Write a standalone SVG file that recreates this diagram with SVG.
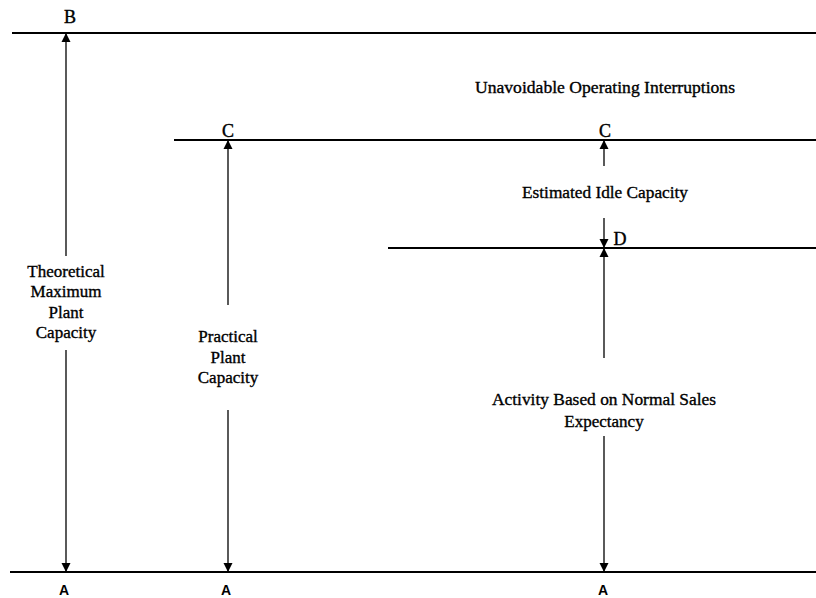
<svg xmlns="http://www.w3.org/2000/svg" width="816" height="598" viewBox="0 0 816 598">
  <defs>
    <marker id="arrow" viewBox="0 0 9 10" refX="9" refY="5" markerWidth="9" markerHeight="10" markerUnits="userSpaceOnUse" orient="auto">
      <path d="M0,0.5 L9,5 L0,9.5 Z" fill="#000"/>
    </marker>
    <style>
      .level { stroke: #000; stroke-width: 2; fill: none; }
      .dim { stroke: #000; stroke-width: 1.3; fill: none; marker-end: url(#arrow); }
      .lbl { font-family: "Liberation Serif", "DejaVu Serif", serif; font-size: 17px; fill: #000; stroke: #000; stroke-width: 0.35; text-anchor: middle; }
      .pt { font-family: "Liberation Serif", "DejaVu Serif", serif; font-size: 18px; fill: #000; stroke: #000; stroke-width: 0.4; text-anchor: middle; }
      .pa { font-family: "Liberation Sans", "DejaVu Sans", sans-serif; font-weight: bold; font-size: 14px; fill: #000; text-anchor: middle; }
    </style>
  </defs>
  <rect width="816" height="598" fill="#fff"/>

  <!-- capacity levels -->
  <g id="levels">
    <line id="level-B" class="level" x1="12" y1="33" x2="816" y2="33"/>
    <line id="level-C" class="level" x1="174" y1="140" x2="816" y2="140"/>
    <line id="level-D" class="level" x1="388" y1="248" x2="816" y2="248"/>
    <line id="level-A" class="level" x1="10" y1="572" x2="816" y2="572"/>
  </g>

  <!-- dimension arrows -->
  <g id="connectors">
    <line class="dim" x1="66" y1="256" x2="66" y2="33"/>
    <line class="dim" x1="66" y1="350" x2="66" y2="572"/>
    <line class="dim" x1="228" y1="305" x2="228" y2="140"/>
    <line class="dim" x1="228" y1="410" x2="228" y2="572"/>
    <line class="dim" x1="604" y1="166" x2="604" y2="140"/>
    <line class="dim" x1="604" y1="218" x2="604" y2="248"/>
    <line class="dim" x1="604" y1="358" x2="604" y2="248"/>
    <line class="dim" x1="604" y1="436" x2="604" y2="572"/>
  </g>

  <!-- point labels -->
  <g id="points">
    <text class="pt" x="70" y="23">B</text>
    <text class="pt" x="228" y="137">C</text>
    <text class="pt" x="605" y="137">C</text>
    <text class="pt" x="620" y="245">D</text>
    <text class="pa" x="64" y="595">A</text>
    <text class="pa" x="226" y="595">A</text>
    <text class="pa" x="603" y="595">A</text>
  </g>

  <g id="theoretical">
    <text class="lbl" x="66" y="277">Theoretical</text>
    <text class="lbl" x="66" y="297">Maximum</text>
    <text class="lbl" x="66" y="318">Plant</text>
    <text class="lbl" x="66" y="338">Capacity</text>
  </g>

  <g id="practical">
    <text class="lbl" x="228" y="342">Practical</text>
    <text class="lbl" x="228" y="363">Plant</text>
    <text class="lbl" x="228" y="383">Capacity</text>
  </g>

  <g id="unavoidable">
    <text class="lbl" x="605" y="93" textLength="260" lengthAdjust="spacingAndGlyphs">Unavoidable Operating Interruptions</text>
  </g>

  <g id="idle">
    <text class="lbl" x="605" y="198" textLength="166" lengthAdjust="spacingAndGlyphs">Estimated Idle Capacity</text>
  </g>

  <g id="normal">
    <text class="lbl" x="604" y="405" textLength="224" lengthAdjust="spacingAndGlyphs">Activity Based on Normal Sales</text>
    <text class="lbl" x="604" y="427">Expectancy</text>
  </g>
</svg>
